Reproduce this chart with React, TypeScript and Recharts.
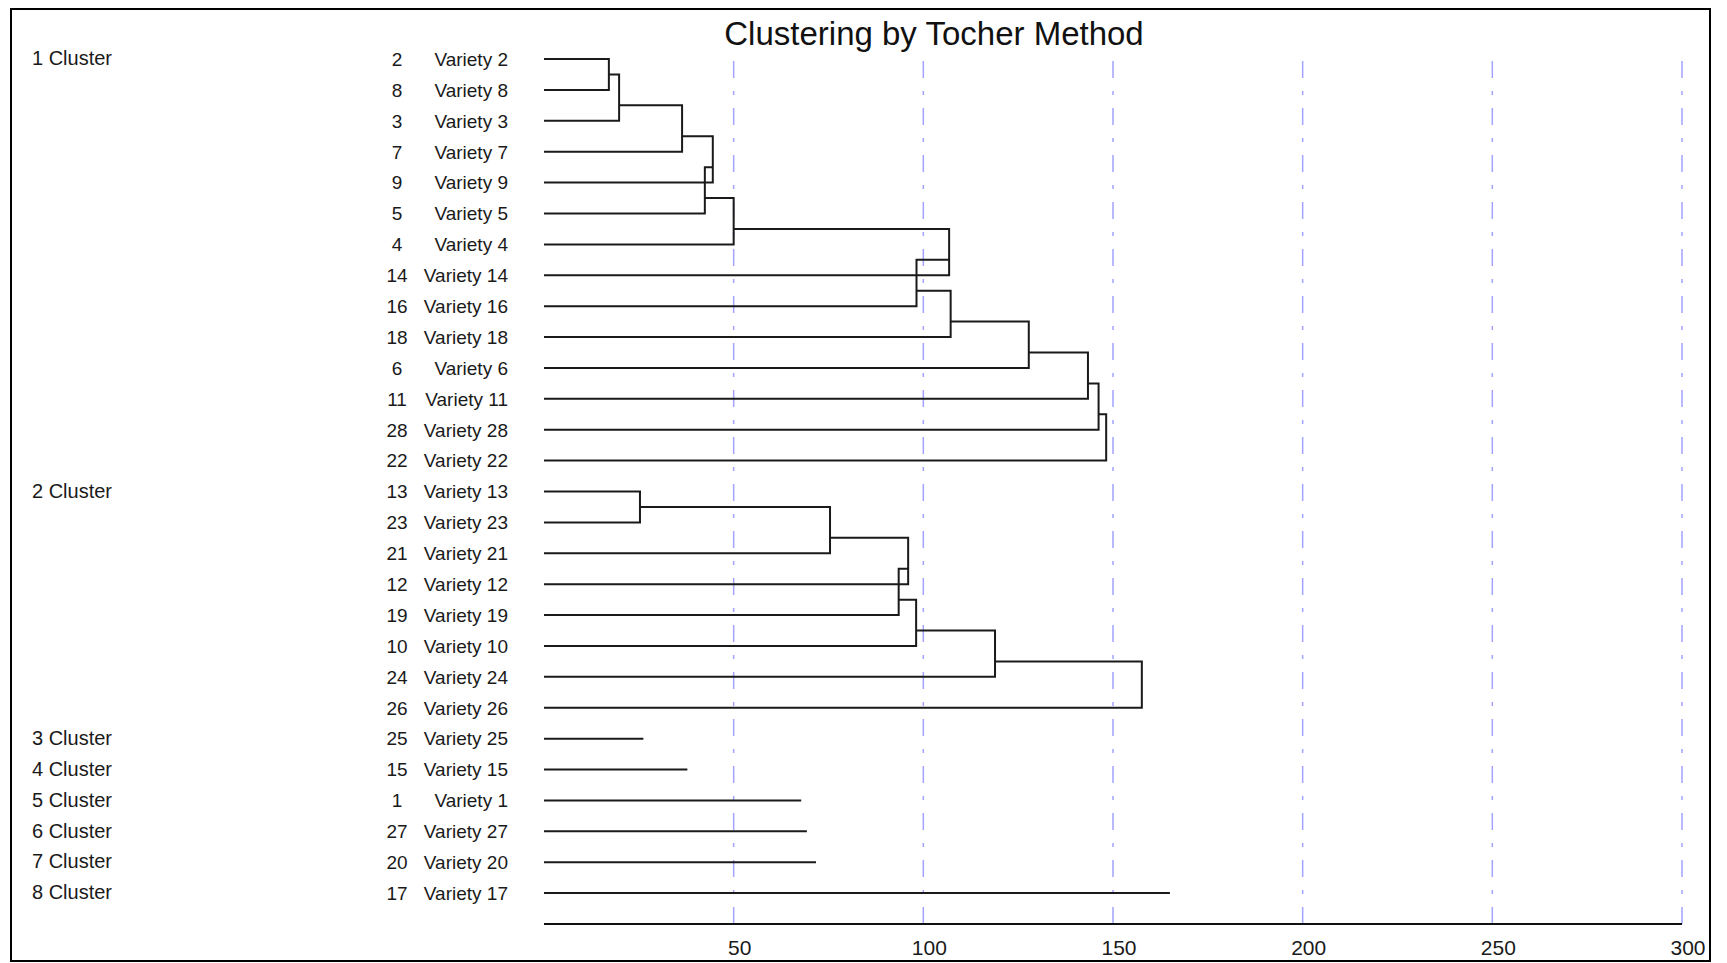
import { ComposedChart, Line, XAxis, YAxis, ReferenceLine } from "recharts";

// leaf order, top to bottom
const varieties = [2, 8, 3, 7, 9, 5, 4, 14, 16, 18, 6, 11, 28, 22, 13, 23, 21, 12, 19, 10, 24, 26, 25, 15, 1, 27, 20, 17];
const clusterLabels = ["1 Cluster", "2 Cluster", "3 Cluster", "4 Cluster", "5 Cluster", "6 Cluster", "7 Cluster", "8 Cluster"];
const clusterFirstRow = [1, 15, 23, 24, 25, 26, 27, 28];

// heights at which each following variety joins its cluster
const cluster1Merges = [17.1, 19.8, 36.4, 44.5, 42.4, 50.0, 106.8, 98.2, 107.2, 127.8, 143.4, 146.2, 148.2];
const cluster2Merges = [25.3, 75.4, 96.0, 93.5, 98.1, 118.9, 157.6];
// single-variety clusters 3..8
const singleLengths = [26.2, 37.8, 67.8, 69.3, 71.7, 165.0];

const xTicks = [50, 100, 150, 200, 250, 300];

type Pt = { x: number; y: number };

const chainPaths = (startRow: number, heights: number[]): Pt[][] =>
  heights.map((h, k) => {
    const leafRow = startRow + k + 1;
    const from = k === 0 ? { x: 0, y: startRow } : { x: heights[k - 1], y: leafRow - 1.5 };
    return [from, { x: h, y: from.y }, { x: h, y: leafRow }, { x: 0, y: leafRow }];
  });

const paths: Pt[][] = [
  ...chainPaths(clusterFirstRow[0], cluster1Merges),
  ...chainPaths(clusterFirstRow[1], cluster2Merges),
  ...singleLengths.map((len, i) => [
    { x: 0, y: clusterFirstRow[i + 2] },
    { x: len, y: clusterFirstRow[i + 2] },
  ]),
];

const rows = varieties.map((_, i) => i + 1);
const font = "'Liberation Sans', Arial, sans-serif";

const RowTick = ({ y, payload }: any) => {
  const row = payload.value;
  const v = varieties[row - 1];
  const ci = clusterFirstRow.indexOf(row);
  return (
    <g fontFamily={font} fill="#1a1a1a">
      {ci >= 0 && (
        <text x={32} y={y - 1} dy="0.36em" fontSize={20}>
          {clusterLabels[ci]}
        </text>
      )}
      <text x={397} y={y} dy="0.36em" fontSize={19} textAnchor="middle">
        {v}
      </text>
      <text x={508} y={y} dy="0.36em" fontSize={19} textAnchor="end">
        {`Variety ${v}`}
      </text>
    </g>
  );
};

const XTick = ({ x, y, payload }: any) => (
  <text x={x + 6} y={y + 23} dy="0.36em" textAnchor="middle" fontFamily={font} fontSize={21} fill="#1a1a1a">
    {payload.value}
  </text>
);

export default function App() {
  return (
    <div style={{ position: "fixed", left: 0, top: 0, width: 1727, height: 963, background: "#fff" }}>
      <div
        style={{
          position: "absolute",
          left: 10,
          top: 8,
          width: 1701,
          height: 954,
          border: "2px solid #000",
          boxSizing: "border-box",
        }}
      />
      <div
        style={{
          position: "absolute",
          left: 934,
          top: 17,
          transform: "translateX(-50%)",
          fontFamily: font,
          fontSize: 33,
          lineHeight: "33px",
          whiteSpace: "nowrap",
          color: "#111",
        }}
      >
        Clustering by Tocher Method
      </div>
      <div style={{ position: "absolute", left: 0, top: 0 }}>
        <ComposedChart width={1727} height={963} margin={{ top: 51.3, right: 45, bottom: 0, left: 0 }}>
          <XAxis
            type="number"
            dataKey="x"
            domain={[0, 300]}
            ticks={xTicks}
            allowDataOverflow
            height={39}
            tickLine={false}
            tickSize={0}
            tickMargin={0}
            axisLine={{ stroke: "#111", strokeWidth: 2 }}
            tick={<XTick />}
          />
          <YAxis
            type="number"
            dataKey="y"
            domain={[0.75, 29]}
            reversed
            allowDataOverflow
            ticks={rows}
            interval={0}
            width={544}
            axisLine={false}
            tickLine={false}
            tick={<RowTick />}
          />
          {xTicks.map((t) => (
            <ReferenceLine key={t} x={t} stroke="#a3a3ff" strokeWidth={1.5} strokeDasharray="17 13 4 13" />
          ))}
          {paths.map((p, i) => (
            <Line
              key={i}
              data={p}
              dataKey="y"
              type="linear"
              stroke="#1a1a1a"
              strokeWidth={2}
              dot={false}
              activeDot={false}
              isAnimationActive={false}
            />
          ))}
        </ComposedChart>
      </div>
    </div>
  );
}
